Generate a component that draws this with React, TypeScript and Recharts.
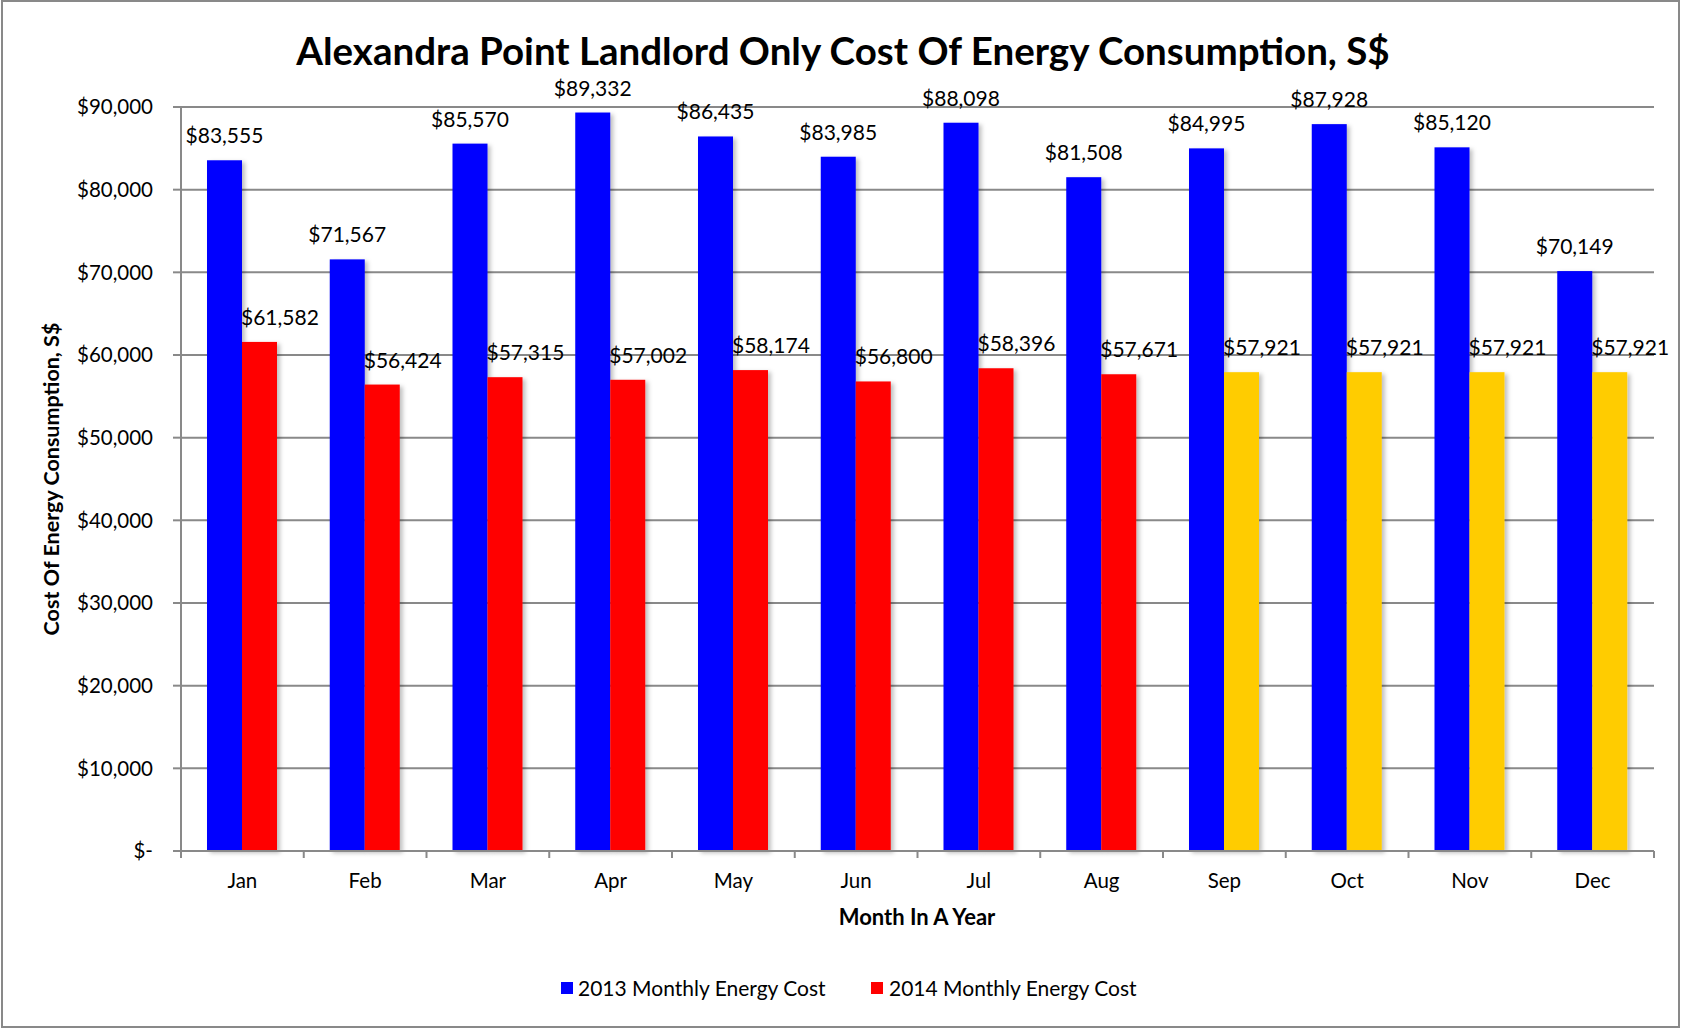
import React from 'react';
import { BarChart, Bar, XAxis, YAxis, CartesianGrid, LabelList, Cell } from 'recharts';

const months = ['Jan', 'Feb', 'Mar', 'Apr', 'May', 'Jun', 'Jul', 'Aug', 'Sep', 'Oct', 'Nov', 'Dec'];
const cost2013 = [83555, 71567, 85570, 89332, 86435, 83985, 88098, 81508, 84995, 87928, 85120, 70149];
const cost2014 = [61582, 56424, 57315, 57002, 58174, 56800, 58396, 57671, 57921, 57921, 57921, 57921];
// months of 2014 that are estimates (drawn in yellow)
const estimated2014 = ['Sep', 'Oct', 'Nov', 'Dec'];
const yTicks = [0, 10000, 20000, 30000, 40000, 50000, 60000, 70000, 80000, 90000];

const W = 1681;
const H = 1029;
const FONT = 'Lato, "Open Sans", sans-serif';
const GREY = '#898989';
const BLUE = '#0000ff';
const RED = '#ff0000';
const YELLOW = '#ffcc00';

const margin = { top: 107, right: 27, left: 81, bottom: 128 };

const chartData = months.map((m, i) => ({
  month: m,
  y2013: cost2013[i],
  y2014: cost2014[i],
}));

const money = (v: number) => (v === 0 ? '$-' : '$' + v.toLocaleString('en-US'));

const MonthTick = (props: any) => {
  const { x, y, payload, index } = props;
  const half = payload.offset ?? (W - margin.left - 100 - margin.right) / months.length / 2;
  return (
    <g>
      <line x1={x - half} x2={x - half} y1={y} y2={y + 7} stroke={GREY} strokeWidth={2} />
      {index === months.length - 1 && (
        <line x1={x + half} x2={x + half} y1={y} y2={y + 7} stroke={GREY} strokeWidth={2} />
      )}
      <text x={x} y={y + 37} textAnchor="middle" fontSize={20.5} fontFamily={FONT} fill="#000">
        {payload.value}
      </text>
    </g>
  );
};

const ShadowBar = (props: any) => {
  const { x, y, width, height, fill } = props;
  if (!height || height <= 0) return null;
  return <rect x={x} y={y} width={width} height={height} fill={fill} filter="url(#barShadow)" />;
};

const label2013 = (props: any) => {
  const { x, y, width, value } = props;
  return (
    <text x={x + width / 2} y={y - 17} textAnchor="middle" fontSize={21} fontFamily={FONT} fill="#000">
      {money(value)}
    </text>
  );
};

const label2014 = (props: any) => {
  const { x, y, value } = props;
  return (
    <text x={x - 1} y={y - 17} textAnchor="start" fontSize={21} fontFamily={FONT} fill="#000">
      {money(value)}
    </text>
  );
};

export default function App() {
  return (
    <div style={{ position: 'absolute', left: 0, top: 0, width: W, height: H, background: '#fff' }}>
      <BarChart
        width={W}
        height={H}
        data={chartData}
        margin={margin}
        barGap={0}
        barSize={35}
      >
        <defs>
          <filter id="barShadow" x="-20%" y="-5%" width="150%" height="110%">
            <feDropShadow dx="3" dy="2" stdDeviation="2" floodColor="#000" floodOpacity="0.25" />
          </filter>
        </defs>
        <CartesianGrid vertical={false} stroke={GREY} strokeWidth={2} />
        <XAxis
          dataKey="month"
          height={50}
          tickLine={false}
          tickSize={0}
          tickMargin={0}
          axisLine={{ stroke: GREY, strokeWidth: 2 }}
          tick={<MonthTick />}
          interval={0}
        />
        <YAxis
          width={100}
          domain={[0, 90000]}
          ticks={yTicks}
          tickFormatter={money}
          tickSize={8}
          tickMargin={20}
          tickLine={{ stroke: GREY, strokeWidth: 2 }}
          axisLine={{ stroke: GREY, strokeWidth: 2 }}
          tick={{ fontSize: 20.5, fontFamily: FONT, fill: '#000' }}
          interval={0}
        />
        <Bar dataKey="y2013" fill={BLUE} shape={<ShadowBar />} isAnimationActive={false}>
          <LabelList dataKey="y2013" content={label2013} />
        </Bar>
        <Bar dataKey="y2014" fill={RED} shape={<ShadowBar />} isAnimationActive={false}>
          {months.map((m) => (
            <Cell key={m} fill={estimated2014.includes(m) ? YELLOW : RED} />
          ))}
          <LabelList dataKey="y2014" content={label2014} />
        </Bar>
      </BarChart>
      <svg
        width={W}
        height={H}
        style={{ position: 'absolute', left: 0, top: 0, pointerEvents: 'none' }}
      >
        <rect x={2} y={1} width={W - 4} height={H - 3} fill="none" stroke={GREY} strokeWidth={2} />
        <text x={843} y={65} textAnchor="middle" fontSize={38.5} fontWeight="bold" fontFamily={FONT} fill="#000">
          Alexandra Point Landlord Only Cost Of Energy Consumption, S$
        </text>
        <text x={917} y={925} textAnchor="middle" fontSize={22} fontWeight="bold" fontFamily={FONT} fill="#000">
          Month In A Year
        </text>
        <text
          transform="translate(59,479) rotate(-90)"
          textAnchor="middle"
          fontSize={21.5}
          fontWeight="bold"
          fontFamily={FONT}
          fill="#000"
        >
          Cost Of Energy Consumption, S$
        </text>
        <rect x={561} y={982} width={12} height={12} fill={BLUE} />
        <text x={578} y={996} fontSize={21} fontFamily={FONT} fill="#000">
          2013 Monthly Energy Cost
        </text>
        <rect x={871} y={982} width={12} height={12} fill={RED} />
        <text x={889} y={996} fontSize={21} fontFamily={FONT} fill="#000">
          2014 Monthly Energy Cost
        </text>
      </svg>
    </div>
  );
}
